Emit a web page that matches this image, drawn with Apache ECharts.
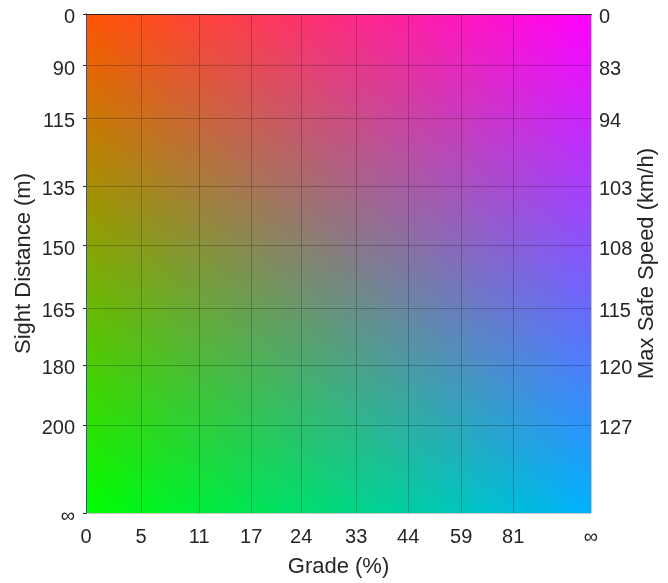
<!DOCTYPE html>
<html><head><meta charset="utf-8">
<script src="https://cdn.jsdelivr.net/npm/echarts@6/dist/echarts.min.js"></script>
<style>html,body{margin:0;padding:0;background:#fff}#c{width:668px;height:583px}</style>
</head><body><div id="c"></div>
<script>
// ---- data ----
const gradeLabels = ['0','5','11','17','24','33','44','59','81','\u221E'];
const gradeTickAt = [0, 0.109, 0.224, 0.327, 0.426, 0.535, 0.638, 0.743, 0.846, 1];
const distanceLabels = ['0','90','115','135','150','165','180','200','\u221E'];
const distanceTickAt = [0, 0.1034, 0.2088, 0.3448, 0.4641, 0.5894, 0.7040, 0.8234, 1];
const speedLabels = ['0','83','94','103','108','115','120','127'];
const speedTickAt = [0, 0.1034, 0.2088, 0.3448, 0.4641, 0.5894, 0.7040, 0.8234];
// corner colours of the colour field
const cornerTopLeft = [255, 85, 0];
const cornerTopRight = [255, 0, 255];
const cornerBottomLeft = [0, 255, 0];
const cornerBottomRight = [0, 178, 255];
const fieldCorners = [[0, 0], [1, 1]];

function lookup(ticks, labels) {
  return function (v) {
    for (let i = 0; i < ticks.length; i++) if (Math.abs(ticks[i] - v) < 1e-6) return labels[i];
    return '';
  };
}
function mix(a, b, t) {
  return 'rgb(' + a.map((c, i) => Math.round(c + (b[i] - c) * t)).join(',') + ')';
}

const FONT = '"Liberation Sans", Arial, Helvetica, sans-serif';
const TXT = '#262626';
const GRIDC = 'rgba(0,0,0,0.22)';

const chart = echarts.init(document.getElementById('c'), null, {renderer: 'canvas'});
chart.setOption({
  animation: false,
  textStyle: {fontFamily: FONT},
  grid: {left: 86, right: 77, top: 14, bottom: 66, containLabel: false},
  xAxis: [{
    type: 'value', min: 0, max: 1, position: 'bottom', z: 5,
    name: 'Grade (%)', nameLocation: 'middle', nameGap: 43, nameMoveOverlap: false,
    nameTextStyle: {fontSize: 22, color: TXT, fontFamily: FONT},
    axisLine: {show: true, lineStyle: {color: TXT, width: 1}},
    axisTick: {show: false, customValues: gradeTickAt},
    axisLabel: {customValues: gradeTickAt, formatter: lookup(gradeTickAt, gradeLabels),
      fontSize: 20, color: TXT, margin: 14, fontFamily: FONT},
    splitLine: {show: true, lineStyle: {color: GRIDC, width: 1}}
  }, {
    type: 'value', min: 0, max: 1, position: 'top', z: 5,
    axisLine: {show: true, lineStyle: {color: TXT, width: 1}},
    axisTick: {show: false}, axisLabel: {show: false}, splitLine: {show: false}
  }],
  yAxis: [{
    type: 'value', min: 0, max: 1, inverse: true, position: 'left', z: 5,
    name: 'Sight Distance (m)', nameLocation: 'middle', nameGap: 51, nameMoveOverlap: false,
    nameTextStyle: {fontSize: 22, color: TXT, fontFamily: FONT},
    axisLine: {show: true, lineStyle: {color: TXT, width: 1}},
    axisTick: {show: true, inside: false, length: 3, customValues: distanceTickAt, lineStyle: {color: TXT}},
    axisLabel: {customValues: distanceTickAt, formatter: lookup(distanceTickAt, distanceLabels),
      fontSize: 20, color: TXT, margin: 11, verticalAlign: 'top', lineHeight: 7, fontFamily: FONT},
    splitLine: {show: true, lineStyle: {color: GRIDC, width: 1}}
  }, {
    type: 'value', min: 0, max: 1, inverse: true, position: 'right', z: 5,
    name: 'Max Safe Speed (km/h)', nameLocation: 'middle', nameGap: 45, nameMoveOverlap: false,
    nameTextStyle: {fontSize: 22, color: TXT, fontFamily: FONT},
    axisLine: {show: true, lineStyle: {color: '#3a4f96', width: 1}},
    axisTick: {show: false, customValues: speedTickAt},
    axisLabel: {customValues: speedTickAt, formatter: lookup(speedTickAt, speedLabels),
      fontSize: 20, color: TXT, margin: 8, verticalAlign: 'top', lineHeight: 7, fontFamily: FONT},
    splitLine: {show: false}
  }],
  series: [{
    type: 'custom', xAxisIndex: 0, yAxisIndex: 0, z: 1, silent: true,
    data: [fieldCorners[0].concat(fieldCorners[1])],
    renderItem: function (params, api) {
      const p0 = api.coord([api.value(0), api.value(1)]);
      const p1 = api.coord([api.value(2), api.value(3)]);
      const x = Math.min(p0[0], p1[0]), y = Math.min(p0[1], p1[1]);
      const w = Math.abs(p1[0] - p0[0]), h = Math.abs(p1[1] - p0[1]);
      const rows = Math.ceil(h);
      const y0 = Math.round(y);
      const children = [];
      for (let r = 0; r < rows; r++) {
        const t = (r + 0.5) / rows;
        const last = r === rows - 1;
        children.push({
          type: 'rect',
          shape: {x: x, y: y0 + r, width: w, height: last ? (y + h - (y0 + r)) : 2},
          style: {
            fill: {type: 'linear', x: 0, y: 0, x2: 1, y2: 0, global: false, colorStops: [
              {offset: 0, color: mix(cornerTopLeft, cornerBottomLeft, t)},
              {offset: 1, color: mix(cornerTopRight, cornerBottomRight, t)}
            ]}
          }
        });
      }
      return {type: 'group', children: children};
    }
  }]
});
</script></body></html>
